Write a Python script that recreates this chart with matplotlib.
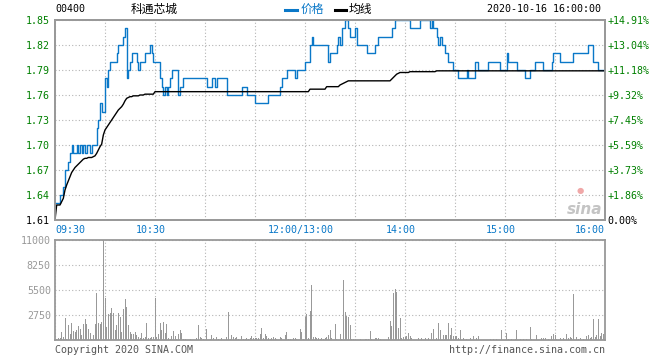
import matplotlib
matplotlib.use("Agg")
import matplotlib.pyplot as plt
from matplotlib.lines import Line2D

code = "00400"
name = "科通芯城"
stamp = "2020-10-16 16:00:00"
prev_close = 1.61

# one value per trading minute, 09:30 -> 12:00 then 13:00 -> 16:00
price = [
    1.63, 1.63, 1.63, 1.64, 1.64, 1.65, 1.67, 1.67, 1.68, 1.69,
    1.70, 1.69, 1.69, 1.70, 1.69, 1.70, 1.69, 1.70, 1.69, 1.70,
    1.70, 1.69, 1.70, 1.70, 1.70, 1.72, 1.73, 1.75, 1.74, 1.74,
    1.78, 1.77, 1.79, 1.80, 1.80, 1.80, 1.80, 1.81, 1.82, 1.82,
    1.82, 1.83, 1.84, 1.78, 1.79, 1.80, 1.81, 1.81, 1.81, 1.80,
    1.79, 1.80, 1.80, 1.80, 1.81, 1.81, 1.81, 1.82, 1.81, 1.80,
    1.80, 1.80, 1.80, 1.78, 1.77, 1.76, 1.77, 1.76, 1.77, 1.78,
    1.79, 1.79, 1.79, 1.79, 1.76, 1.77, 1.77, 1.78, 1.78, 1.78,
    1.78, 1.78, 1.78, 1.78, 1.78, 1.78, 1.78, 1.78, 1.78, 1.78,
    1.78, 1.77, 1.77, 1.77, 1.78, 1.78, 1.77, 1.78, 1.78, 1.78,
    1.78, 1.78, 1.78, 1.76, 1.76, 1.76, 1.76, 1.76, 1.76, 1.76,
    1.76, 1.76, 1.77, 1.77, 1.77, 1.76, 1.76, 1.76, 1.76, 1.76,
    1.75, 1.75, 1.75, 1.75, 1.75, 1.75, 1.75, 1.75, 1.76, 1.76,
    1.76, 1.76, 1.76, 1.76, 1.76, 1.77, 1.78, 1.78, 1.78, 1.79,
    1.79, 1.79, 1.79, 1.79, 1.78, 1.79, 1.79, 1.79, 1.79, 1.79,
    1.80, 1.80, 1.80, 1.82, 1.83, 1.82, 1.82, 1.82, 1.82, 1.82,
    1.82, 1.82, 1.82, 1.82, 1.80, 1.81, 1.81, 1.81, 1.81, 1.82,
    1.83, 1.82, 1.84, 1.84, 1.85, 1.85, 1.84, 1.83, 1.83, 1.83,
    1.84, 1.82, 1.82, 1.82, 1.82, 1.82, 1.82, 1.81, 1.81, 1.81,
    1.81, 1.81, 1.82, 1.82, 1.83, 1.83, 1.83, 1.83, 1.83, 1.83,
    1.83, 1.83, 1.84, 1.84, 1.85, 1.85, 1.85, 1.85, 1.85, 1.85,
    1.85, 1.85, 1.85, 1.84, 1.84, 1.84, 1.84, 1.84, 1.84, 1.85,
    1.85, 1.85, 1.85, 1.85, 1.85, 1.84, 1.85, 1.84, 1.84, 1.83,
    1.82, 1.83, 1.82, 1.82, 1.81, 1.81, 1.80, 1.80, 1.80, 1.79,
    1.79, 1.79, 1.78, 1.78, 1.78, 1.78, 1.78, 1.79, 1.78, 1.78,
    1.78, 1.78, 1.80, 1.80, 1.79, 1.79, 1.79, 1.79, 1.79, 1.79,
    1.80, 1.80, 1.80, 1.80, 1.80, 1.80, 1.80, 1.79, 1.79, 1.79,
    1.79, 1.81, 1.80, 1.80, 1.80, 1.80, 1.80, 1.79, 1.79, 1.79,
    1.79, 1.79, 1.78, 1.78, 1.78, 1.79, 1.79, 1.79, 1.80, 1.80,
    1.80, 1.80, 1.80, 1.79, 1.79, 1.79, 1.79, 1.79, 1.80, 1.81,
    1.81, 1.81, 1.81, 1.80, 1.80, 1.80, 1.80, 1.80, 1.80, 1.80,
    1.80, 1.81, 1.81, 1.81, 1.81, 1.81, 1.81, 1.81, 1.81, 1.81,
    1.82, 1.82, 1.82, 1.80, 1.80, 1.80, 1.79, 1.79, 1.79, 1.79,
    1.79,
]

avg_price = [
    1.610, 1.628, 1.628, 1.628, 1.632, 1.636, 1.646, 1.652, 1.657, 1.662,
    1.667, 1.670, 1.673, 1.675, 1.677, 1.679, 1.681, 1.683, 1.684, 1.684,
    1.685, 1.685, 1.685, 1.686, 1.687, 1.690, 1.694, 1.698, 1.701, 1.712,
    1.718, 1.721, 1.724, 1.727, 1.730, 1.733, 1.736, 1.739, 1.742, 1.744,
    1.746, 1.749, 1.753, 1.756, 1.757, 1.758, 1.758, 1.759, 1.759, 1.759,
    1.759, 1.760, 1.760, 1.760, 1.761, 1.761, 1.761, 1.761, 1.761, 1.761,
    1.764, 1.764, 1.764, 1.764, 1.764, 1.764, 1.764, 1.764, 1.764, 1.764,
    1.764, 1.764, 1.764, 1.764, 1.764, 1.764, 1.764, 1.764, 1.764, 1.764,
    1.764, 1.764, 1.764, 1.764, 1.764, 1.764, 1.764, 1.764, 1.764, 1.764,
    1.764, 1.764, 1.764, 1.764, 1.764, 1.764, 1.764, 1.764, 1.764, 1.764,
    1.764, 1.764, 1.764, 1.764, 1.764, 1.764, 1.764, 1.764, 1.764, 1.764,
    1.764, 1.764, 1.764, 1.764, 1.764, 1.764, 1.764, 1.764, 1.764, 1.764,
    1.764, 1.764, 1.764, 1.764, 1.764, 1.764, 1.764, 1.764, 1.764, 1.764,
    1.764, 1.764, 1.764, 1.764, 1.764, 1.764, 1.764, 1.764, 1.764, 1.764,
    1.764, 1.764, 1.764, 1.764, 1.764, 1.764, 1.764, 1.764, 1.764, 1.764,
    1.764, 1.764, 1.764, 1.767, 1.767, 1.767, 1.767, 1.767, 1.767, 1.767,
    1.767, 1.767, 1.767, 1.770, 1.770, 1.770, 1.770, 1.770, 1.770, 1.770,
    1.770, 1.772, 1.773, 1.774, 1.775, 1.776, 1.777, 1.777, 1.777, 1.777,
    1.777, 1.777, 1.777, 1.777, 1.777, 1.777, 1.777, 1.777, 1.777, 1.777,
    1.777, 1.777, 1.777, 1.777, 1.777, 1.777, 1.777, 1.777, 1.777, 1.777,
    1.777, 1.777, 1.779, 1.781, 1.783, 1.785, 1.786, 1.787, 1.787, 1.787,
    1.787, 1.787, 1.787, 1.788, 1.788, 1.788, 1.788, 1.788, 1.788, 1.788,
    1.788, 1.788, 1.788, 1.788, 1.788, 1.788, 1.788, 1.788, 1.788, 1.789,
    1.789, 1.789, 1.789, 1.789, 1.789, 1.789, 1.789, 1.789, 1.789, 1.789,
    1.789, 1.789, 1.789, 1.789, 1.789, 1.789, 1.789, 1.789, 1.789, 1.789,
    1.789, 1.789, 1.789, 1.789, 1.789, 1.789, 1.789, 1.789, 1.789, 1.789,
    1.789, 1.789, 1.789, 1.789, 1.789, 1.789, 1.789, 1.789, 1.789, 1.789,
    1.789, 1.789, 1.789, 1.789, 1.789, 1.789, 1.789, 1.789, 1.789, 1.789,
    1.789, 1.789, 1.789, 1.789, 1.789, 1.789, 1.789, 1.789, 1.789, 1.789,
    1.789, 1.789, 1.789, 1.789, 1.789, 1.789, 1.789, 1.789, 1.789, 1.789,
    1.789, 1.789, 1.789, 1.789, 1.789, 1.789, 1.789, 1.789, 1.789, 1.789,
    1.789, 1.789, 1.789, 1.789, 1.789, 1.789, 1.789, 1.789, 1.789, 1.789,
    1.789, 1.789, 1.789, 1.789, 1.789, 1.789, 1.789, 1.789, 1.789, 1.789,
    1.789,
]

volume = [
    150, 100, 180, 260, 920, 370, 2460, 120, 1650, 660,
    1870, 990, 840, 1100, 1540, 1210, 550, 1760, 2310, 1760,
    1210, 730, 100, 550, 1760, 5130, 1870, 1760, 1940, 11000,
    4660, 1470, 2860, 3000, 3560, 2930, 1100, 1650, 3000, 2570,
    920, 3410, 4510, 3670, 1650, 920, 660, 660, 920, 550,
    370, 180, 810, 260, 370, 1910, 260, 260, 370, 370,
    4660, 370, 620, 1910, 1100, 1940, 730, 1760, 180, 100,
    480, 990, 440, 100, 660, 1100, 810, 100, 100, 0,
    0, 100, 0, 0, 0, 260, 1650, 370, 180, 100,
    0, 1210, 0, 100, 550, 260, 0, 370, 100, 0,
    260, 0, 0, 370, 3040, 100, 550, 370, 180, 370,
    100, 0, 440, 100, 100, 180, 100, 180, 480, 260,
    180, 260, 180, 660, 1280, 180, 660, 440, 180, 100,
    180, 370, 180, 100, 0, 370, 180, 0, 550, 920,
    100, 100, 0, 180, 180, 100, 0, 1170, 920, 100,
    2570, 2860, 180, 3190, 6050, 370, 370, 180, 180, 100,
    180, 100, 180, 370, 550, 1100, 260, 0, 1760, 100,
    0, 660, 100, 6600, 3040, 2680, 2490, 1650, 100, 100,
    100, 0, 0, 100, 0, 0, 100, 100, 100, 990,
    100, 0, 180, 180, 180, 100, 0, 0, 0, 0,
    370, 2090, 1580, 5210, 5570, 5320, 1360, 2380, 180, 370,
    370, 440, 730, 440, 180, 0, 0, 0, 180, 0,
    180, 0, 180, 0, 180, 0, 730, 1210, 0, 180,
    1910, 1060, 0, 550, 550, 550, 1910, 550, 1280, 440,
    440, 440, 180, 1100, 0, 180, 0, 100, 0, 260,
    0, 440, 0, 180, 440, 0, 0, 0, 0, 0,
    0, 100, 0, 100, 0, 100, 0, 0, 1100, 0,
    0, 810, 100, 0, 100, 0, 100, 1100, 0, 100,
    0, 100, 0, 100, 0, 1470, 100, 0, 0, 550,
    0, 0, 180, 180, 180, 0, 100, 0, 440, 620,
    550, 100, 0, 180, 0, 180, 0, 660, 180, 290,
    180, 5060, 0, 290, 100, 180, 0, 100, 0, 480,
    550, 180, 290, 2310, 290, 550, 2310, 440, 730, 660,
    550,
]

price_ticks = [1.61, 1.64, 1.67, 1.70, 1.73, 1.76, 1.79, 1.82, 1.85]
vol_ticks = [2750, 5500, 8250, 11000]
time_labels = ["09:30", "10:30", "12:00/13:00", "14:00", "15:00", "16:00"]
time_pos = [0, 60, 150, 210, 270, 330]

minutes = list(range(len(price)))

W, H = 660, 360
mono = "DejaVu Sans Mono"
blue = "#0a78c8"
green = "#008000"
frame = "#999999"
gridc = "#b4b4b4"
fs = 7.2

fig = plt.figure(figsize=(6.6, 3.6), dpi=100)
fig.patch.set_facecolor("white")

ax = fig.add_axes([55 / W, 140 / H, 550 / W, 200 / H])
axv = fig.add_axes([55 / W, 20 / H, 550 / W, 100 / H])

# price panel
ax.plot(minutes, price, color=blue, lw=1.0, drawstyle="steps-post", zorder=3)
ax.plot(minutes, avg_price, color="black", lw=1.0, zorder=4)
ax.set_xlim(0, 330)
ax.set_ylim(price_ticks[0], price_ticks[-1])
ax.set_xticks(range(0, 331, 30))
ax.set_xticklabels([])
ax.set_yticks(price_ticks)
ax.set_yticklabels([f"{t:.2f}" for t in price_ticks], family=mono, fontsize=fs)
for lbl, t in zip(ax.get_yticklabels(), price_ticks):
    lbl.set_color("black" if abs(t - prev_close) < 1e-9 else green)
ax.tick_params(length=0, pad=4)
ax.grid(True, color=gridc, linestyle=(0, (1, 2)), linewidth=0.8)

ax2 = ax.twinx()
ax2.set_ylim(price_ticks[0], price_ticks[-1])
ax2.set_yticks(price_ticks)
pct = []
for t in price_ticks:
    p = (t - prev_close) / prev_close * 100
    pct.append("0.00%" if abs(p) < 1e-9 else f"+{p:.2f}%")
ax2.set_yticklabels(pct, family=mono, fontsize=fs)
for lbl, t in zip(ax2.get_yticklabels(), price_ticks):
    lbl.set_color("black" if abs(t - prev_close) < 1e-9 else green)
ax2.tick_params(length=0, pad=2)

for a in (ax, ax2, axv):
    for s in a.spines.values():
        s.set_color(frame)
        s.set_linewidth(1.3)

# time labels under the price panel
has = ["left", "center", "center", "center", "center", "right"]
for t, lab, ha in zip(time_pos, time_labels, has):
    off = 0 if ha != "center" else -3
    ax.annotate(lab, xy=(t, 0), xycoords=("data", "axes fraction"),
                xytext=(off, -7), textcoords="offset points",
                ha=ha, va="center", family=mono, fontsize=fs, color=blue)

# sina watermark
ax.text(0.995, 0.015, "sina", transform=ax.transAxes, ha="right", va="bottom",
        fontsize=11, fontstyle="italic", fontweight="bold", color="#c4c4c4",
        family="DejaVu Sans", zorder=1)
ax.text(0.955, 0.15, "●", transform=ax.transAxes, ha="center", va="center",
        fontsize=6, color="#f0a8a8", family="DejaVu Sans", zorder=1)

# volume panel
axv.bar(minutes, volume, width=0.6, color="#999999", zorder=3)
axv.set_xlim(0, 330)
axv.set_ylim(0, vol_ticks[-1])
axv.set_xticks(range(0, 331, 30))
axv.set_xticklabels([])
axv.set_yticks(vol_ticks)
axv.set_yticklabels([str(v) for v in vol_ticks], family=mono, fontsize=fs,
                    color="#999999")
axv.tick_params(length=0, pad=3)
axv.grid(True, color=gridc, linestyle=(0, (1, 2)), linewidth=0.8)

# header
def fy(y):
    return 1 - y / H

fig.text(55 / W, fy(9), code, ha="left", va="center", family=mono, fontsize=fs)
fig.text(154 / W, fy(9), name, ha="center", va="center",
         family=["Noto Sans CJK SC", "DejaVu Sans"], fontsize=8.5)
fig.add_artist(Line2D([285 / W, 297 / W], [fy(10), fy(10)], color=blue, lw=2.2))
fig.text(301 / W, fy(9), "价格", ha="left", va="center",
         family=["Noto Sans CJK SC", "DejaVu Sans"], fontsize=8.5, color=blue)
fig.add_artist(Line2D([335 / W, 346 / W], [fy(10), fy(10)], color="black", lw=2.2))
fig.text(349 / W, fy(9), "均线", ha="left", va="center",
         family=["Noto Sans CJK SC", "DejaVu Sans"], fontsize=8.5, color="black")
fig.text(601 / W, fy(9), stamp, ha="right", va="center", family=mono, fontsize=fs)

# footer
fig.text(55 / W, fy(350), "Copyright 2020 SINA.COM", ha="left", va="center",
         family=mono, fontsize=fs, color="#555555")
fig.text(605 / W, fy(350), "http://finance.sina.com.cn", ha="right", va="center",
         family=mono, fontsize=fs, color="#555555")

fig.savefig("out.png", dpi=100)
